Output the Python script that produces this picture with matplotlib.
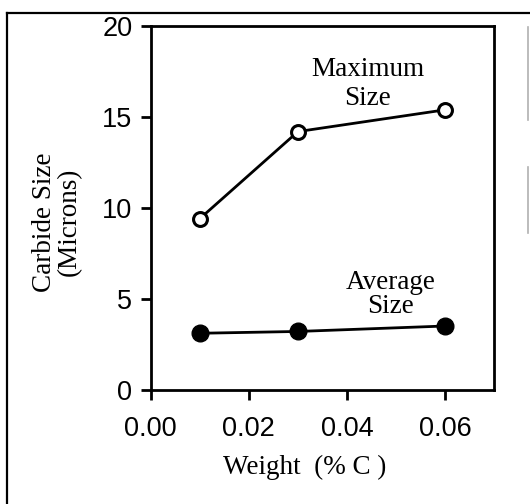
import matplotlib

matplotlib.use("Agg")

import matplotlib.pyplot as plt
from matplotlib.lines import Line2D

# carbon content (wt % C) and carbide sizes in microns
carbon_wt = [0.01, 0.03, 0.06]
max_size = [9.4, 14.2, 15.4]
avg_size = [3.1, 3.2, 3.5]

x_ticks = [0.00, 0.02, 0.04, 0.06]
y_ticks = [0, 5, 10, 15, 20]

SERIF = "Liberation Serif"
SANS = "Liberation Sans"


def main(output_path="out.png"):
    fig = plt.figure(figsize=(5.3, 5.04), dpi=100, facecolor="white")
    ax = fig.add_axes([0.284, 0.227, 0.649, 0.721])

    ax.plot(carbon_wt, max_size, color="black", linewidth=2.0,
            marker="o", markersize=10, markerfacecolor="white",
            markeredgecolor="black", markeredgewidth=2.2, zorder=3)
    ax.plot(carbon_wt, avg_size, color="black", linewidth=2.0,
            marker="o", markersize=12, markerfacecolor="black",
            markeredgecolor="black", zorder=3)

    ax.set_xlim(0.0, 0.07)
    ax.set_ylim(0, 20)
    ax.set_xticks(x_ticks)
    ax.set_xticklabels([f"{v:.2f}" for v in x_ticks])
    ax.set_yticks(y_ticks)

    for spine in ax.spines.values():
        spine.set_linewidth(2.0)
    ax.tick_params(axis="both", direction="out", length=7, width=2.0,
                   labelsize=19.5)
    ax.tick_params(axis="x", pad=12)
    ax.tick_params(axis="y", pad=6)
    for lbl in ax.get_xticklabels() + ax.get_yticklabels():
        lbl.set_family(SANS)

    ax.text(0.0442, 15.35, "Maximum\nSize", ha="center", va="bottom",
            fontsize=19.5, family=SERIF, linespacing=1.19)
    ax.text(0.0488, 3.9, "Average\nSize", ha="center", va="bottom",
            fontsize=19.5, family=SERIF, linespacing=0.92)

    fig.text(305 / 530, 1 - 467 / 504, "Weight  (% C )", ha="center",
             va="center", fontsize=19.5, family=SERIF)
    fig.text(57 / 530, 1 - 222 / 504, "Carbide Size\n(Microns)",
             rotation=90, ha="center", va="center", fontsize=19.5,
             family=SERIF, linespacing=1.0, multialignment="center")

    # surrounding frame (left and top edges) plus faint edge marks at right
    W, H = 530, 504
    fig.add_artist(Line2D([7 / W, 7 / W], [0, 1 - 13 / H],
                          transform=fig.transFigure, color="black", linewidth=1.6))
    fig.add_artist(Line2D([7 / W, 1], [1 - 13 / H, 1 - 13 / H],
                          transform=fig.transFigure, color="black", linewidth=1.6))
    for y0, y1 in [(27, 120), (167, 233)]:
        fig.add_artist(Line2D([528 / W, 528 / W], [1 - y0 / H, 1 - y1 / H],
                              transform=fig.transFigure, color="#b0b0b0",
                              linewidth=1.2))

    fig.savefig(output_path, dpi=100, facecolor=fig.get_facecolor())
    plt.close(fig)
    return output_path


if __name__ == "__main__":
    print(main())
